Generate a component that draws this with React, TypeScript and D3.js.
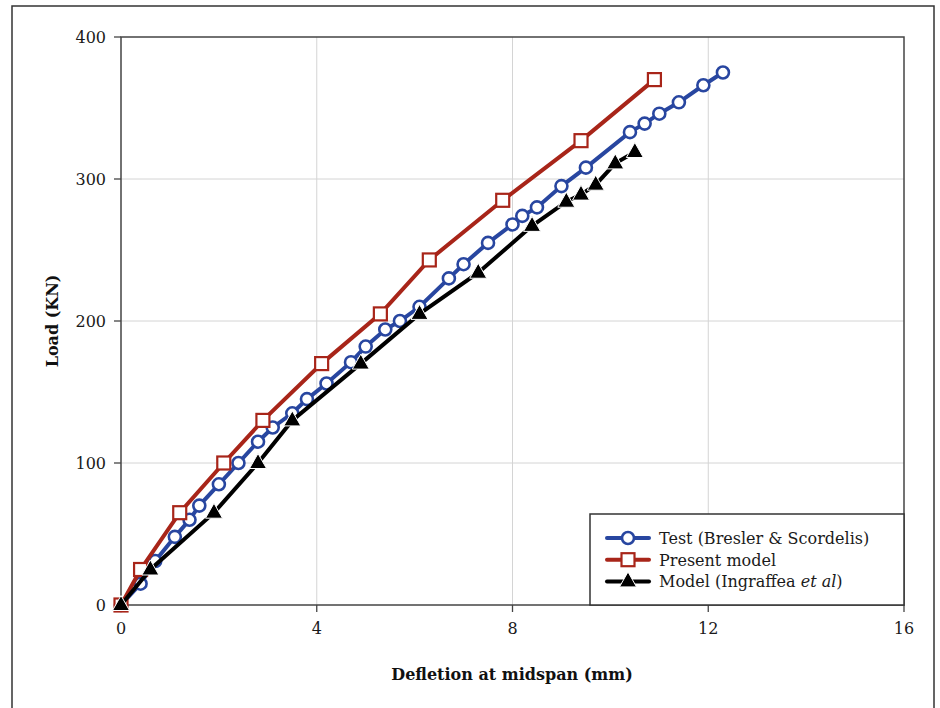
import React from 'react';
import * as d3 from 'd3';

// Test (Bresler & Scordelis)
const testDefl = [0, 0.4, 0.7, 1.1, 1.4, 1.6, 2.0, 2.4, 2.8, 3.1, 3.5, 3.8, 4.2, 4.7, 5.0, 5.4, 5.7, 6.1, 6.7, 7.0, 7.5, 8.0, 8.2, 8.5, 9.0, 9.5, 10.4, 10.7, 11.0, 11.4, 11.9, 12.3];
const testLoad = [0, 15, 31, 48, 60, 70, 85, 100, 115, 125, 135, 145, 156, 171, 182, 194, 200, 210, 230, 240, 255, 268, 274, 280, 295, 308, 333, 339, 346, 354, 366, 375];

// Present model
const presentDefl = [0, 0.4, 1.2, 2.1, 2.9, 4.1, 5.3, 6.3, 7.8, 9.4, 10.9];
const presentLoad = [0, 25, 65, 100, 130, 170, 205, 243, 285, 327, 370];

// Model (Ingraffea et al)
const ingDefl = [0, 0.6, 1.9, 2.8, 3.5, 4.9, 6.1, 7.3, 8.4, 9.1, 9.4, 9.7, 10.1, 10.5];
const ingLoad = [0, 25, 65, 100, 130, 170, 205, 234, 267, 284, 289, 296, 311, 319];

const xTicks = [0, 4, 8, 12, 16];
const yTicks = [0, 100, 200, 300, 400];

const BLUE = '#2846a0';
const RED = '#a82519';
const BLACK = '#000';
const FONT = '"DejaVu Serif", "Liberation Serif", serif';

const zip = (xs: number[], ys: number[]) => xs.map((x, i) => [x, ys[i]] as [number, number]);

export default function App() {
  const W = 940, H = 708;
  const left = 121, right = 904, top = 37, bottom = 605;

  const x = d3.scaleLinear().domain([0, 16]).range([left, right]);
  const y = d3.scaleLinear().domain([0, 400]).range([bottom, top]);
  const line = d3.line<[number, number]>().x(d => x(d[0])).y(d => y(d[1]));

  const test = zip(testDefl, testLoad);
  const present = zip(presentDefl, presentLoad);
  const ing = zip(ingDefl, ingLoad);

  const circle = (cx: number, cy: number, key: any) => (
    <circle key={key} cx={cx} cy={cy} r={6} fill="#fff" stroke={BLUE} strokeWidth={2.6} />
  );
  const square = (cx: number, cy: number, key: any) => (
    <rect key={key} x={cx - 6.5} y={cy - 6.5} width={13} height={13} fill="#fff" stroke={RED} strokeWidth={2.2} />
  );
  const tri = (cx: number, cy: number, key: any) => (
    <path key={key} d={`M${cx},${cy - 9.5}L${cx + 8.5},${cy + 5.5}L${cx - 8.5},${cy + 5.5}Z`} fill={BLACK} stroke="#fff" strokeWidth={1} />
  );

  const legendRows = [
    { color: BLUE, marker: circle, label: <>Test (Bresler &amp; Scordelis)</> },
    { color: RED, marker: square, label: <>Present model</> },
    { color: BLACK, marker: tri, label: <>Model (Ingraffea <tspan fontStyle="italic">et al</tspan>)</> },
  ];

  return (
    <svg width={W} height={H} style={{ position: 'absolute', left: 0, top: 0, background: '#fff' }} fontFamily={FONT}>
      <rect x={12} y={6} width={922} height={720} fill="#fff" stroke="#333" strokeWidth={1.5} />

      {/* grid */}
      {xTicks.slice(1, -1).map(t => (
        <line key={'gx' + t} x1={x(t)} x2={x(t)} y1={top} y2={bottom} stroke="#d4d4d4" strokeWidth={1} />
      ))}
      {yTicks.slice(1, -1).map(t => (
        <line key={'gy' + t} x1={left} x2={right} y1={y(t)} y2={y(t)} stroke="#d4d4d4" strokeWidth={1} />
      ))}

      {/* plot frame */}
      <rect x={left} y={top} width={right - left} height={bottom - top} fill="none" stroke="#444" strokeWidth={1.5} />

      {/* ticks */}
      {xTicks.map(t => (
        <g key={'xt' + t}>
          <line x1={x(t)} x2={x(t)} y1={bottom} y2={bottom + 7} stroke="#444" strokeWidth={1.3} />
          <text x={x(t)} y={bottom + 29} textAnchor="middle" fontSize={16} fill="#1a1a1a">{t}</text>
        </g>
      ))}
      {yTicks.map(t => (
        <g key={'yt' + t}>
          <line x1={left - 7} x2={left} y1={y(t)} y2={y(t)} stroke="#444" strokeWidth={1.3} />
          <text x={left - 15} y={y(t) + 6} textAnchor="end" fontSize={16} fill="#1a1a1a">{t}</text>
        </g>
      ))}

      {/* axis titles */}
      <text x={512} y={680} textAnchor="middle" fontSize={16} fontWeight="bold" fill="#111">Defletion at midspan (mm)</text>
      <text transform={`translate(58,${(top + bottom) / 2}) rotate(-90)`} textAnchor="middle" fontSize={16} fontWeight="bold" fill="#111">Load (KN)</text>

      {/* series */}
      <path d={line(test) || ''} fill="none" stroke={BLUE} strokeWidth={4} />
      {test.map((d, i) => circle(x(d[0]), y(d[1]), 'c' + i))}
      <path d={line(present) || ''} fill="none" stroke={RED} strokeWidth={4} />
      {present.map((d, i) => square(x(d[0]), y(d[1]), 's' + i))}
      <path d={line(ing) || ''} fill="none" stroke={BLACK} strokeWidth={4} />
      {ing.map((d, i) => tri(x(d[0]), y(d[1]), 't' + i))}

      {/* legend */}
      <rect x={590} y={514} width={right - 590} height={bottom - 514} fill="#fff" stroke="#333" strokeWidth={1.5} />
      {legendRows.map((r, i) => {
        const ly = 538 + i * 21.7;
        return (
          <g key={'lg' + i}>
            <line x1={607} x2={649} y1={ly} y2={ly} stroke={r.color} strokeWidth={4} strokeLinecap="round" />
            {r.marker(628, ly, 'm' + i)}
            <text x={659} y={ly + 6} fontSize={16} fill="#1a1a1a">{r.label}</text>
          </g>
        );
      })}
    </svg>
  );
}
